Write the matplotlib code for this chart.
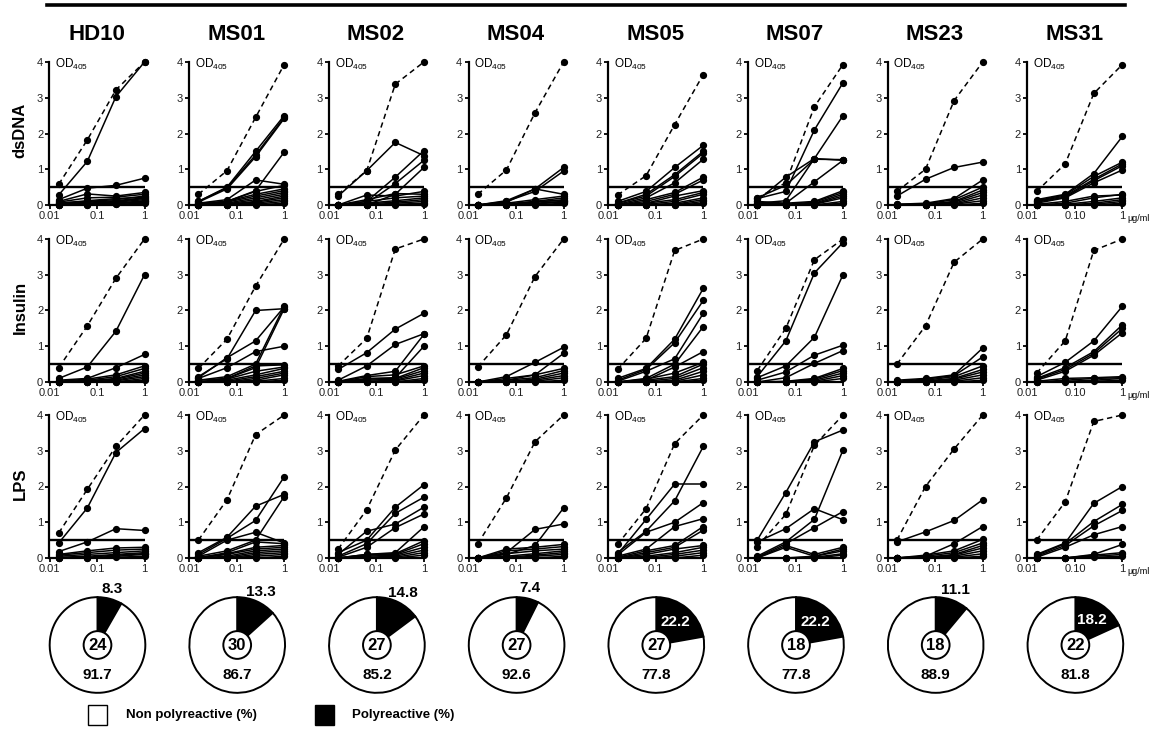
import math
import matplotlib
matplotlib.use("Agg")
import matplotlib.pyplot as plt
from matplotlib.lines import Line2D
from matplotlib.patches import Rectangle, Circle
from matplotlib.ticker import NullLocator

plt.rcParams['font.family'] = ['Liberation Sans', 'DejaVu Sans']

# ---- data ----
subjects = ["HD10", "MS01", "MS02", "MS04", "MS05", "MS07", "MS23", "MS31"]
antigens = ["dsDNA", "Insulin", "LPS"]
conc = [0.015625, 0.0625, 0.25, 1.0]   # ug/ml
n_clones = [24, 30, 27, 27, 27, 18, 18, 22]
poly_pct = [8.3, 13.3, 14.8, 7.4, 22.2, 22.2, 11.1, 18.2]
non_poly_pct = [91.7, 86.7, 85.2, 92.6, 77.8, 77.8, 88.9, 81.8]

# positive control (dashed) per subject
dsdna_ctrl = [[0.58, 1.82, 3.22, 4.0], [0.30, 0.96, 2.45, 3.93], [0.30, 0.96, 3.38, 4.0],
              [0.30, 0.98, 2.58, 4.0], [0.28, 0.82, 2.25, 3.65], [0.20, 0.62, 2.75, 3.93],
              [0.38, 1.00, 2.92, 4.0], [0.38, 1.15, 3.12, 3.93]]
insulin_ctrl = [[0.40, 1.57, 2.90, 4.0], [0.38, 1.20, 2.68, 4.0], [0.45, 1.22, 3.72, 4.0],
                [0.42, 1.32, 2.95, 4.0], [0.35, 1.22, 3.68, 4.0], [0.32, 1.50, 3.42, 4.0],
                [0.50, 1.57, 3.35, 4.0], [0.25, 1.15, 3.68, 4.0]]
lps_ctrl = [[0.70, 1.92, 3.12, 4.0], [0.50, 1.63, 3.45, 4.0], [0.25, 1.35, 3.02, 4.0],
            [0.40, 1.68, 3.25, 4.0], [0.38, 1.38, 3.20, 4.0], [0.32, 1.22, 3.15, 4.0],
            [0.50, 2.00, 3.05, 4.0], [0.50, 1.57, 3.82, 4.0]]

# clones per subject
dsdna_clones = [
    [[0.28, 1.22, 3.03, 4.0], [0.15, 0.47, 0.55, 0.75], [0.10, 0.31, 0.25, 0.35], [0.08, 0.20, 0.22, 0.30],
     [0.05, 0.10, 0.15, 0.25], [0.03, 0.08, 0.12, 0.20], [0.02, 0.05, 0.10, 0.18], [0.0, 0.04, 0.08, 0.15],
     [0.0, 0.02, 0.05, 0.12], [0.0, 0.0, 0.03, 0.10], [0.05, 0.12, 0.18, 0.22], [0.02, 0.03, 0.06, 0.08],
     [0.0, 0.01, 0.02, 0.05]],
    [[0.10, 0.50, 1.50, 2.50], [0.10, 0.48, 1.40, 2.45], [0.08, 0.45, 1.35, 2.42], [0.05, 0.10, 0.40, 1.48],
     [0.05, 0.15, 0.70, 0.58], [0.0, 0.10, 0.38, 0.55], [0.02, 0.10, 0.30, 0.45], [0.0, 0.08, 0.25, 0.40],
     [0.0, 0.05, 0.20, 0.35], [0.0, 0.03, 0.15, 0.30], [0.0, 0.02, 0.10, 0.25], [0.0, 0.0, 0.08, 0.20],
     [0.0, 0.0, 0.05, 0.15], [0.0, 0.0, 0.02, 0.10], [0.0, 0.0, 0.0, 0.05]],
    [[0.25, 0.96, 1.75, 1.38], [0.0, 0.10, 0.78, 1.52], [0.0, 0.05, 0.60, 1.25], [0.0, 0.0, 0.30, 1.05],
     [0.0, 0.28, 0.25, 0.38], [0.0, 0.15, 0.32, 0.30], [0.0, 0.10, 0.20, 0.25], [0.0, 0.05, 0.12, 0.20],
     [0.0, 0.03, 0.08, 0.15], [0.0, 0.0, 0.05, 0.10], [0.0, 0.0, 0.02, 0.05], [0.0, 0.0, 0.0, 0.02]],
    [[0.0, 0.12, 0.45, 1.05], [0.0, 0.10, 0.38, 0.95], [0.0, 0.08, 0.45, 0.30], [0.0, 0.05, 0.15, 0.25],
     [0.0, 0.03, 0.10, 0.20], [0.0, 0.02, 0.08, 0.15], [0.0, 0.0, 0.05, 0.10], [0.0, 0.0, 0.03, 0.08],
     [0.0, 0.0, 0.0, 0.05], [0.0, 0.0, 0.10, 0.12]],
    [[0.10, 0.38, 1.05, 1.67], [0.05, 0.30, 0.85, 1.50], [0.05, 0.25, 0.80, 1.45], [0.02, 0.20, 0.62, 1.28],
     [0.0, 0.15, 0.35, 0.78], [0.0, 0.10, 0.30, 0.70], [0.0, 0.05, 0.25, 0.40], [0.0, 0.05, 0.15, 0.35],
     [0.0, 0.02, 0.10, 0.30], [0.0, 0.0, 0.05, 0.20], [0.0, 0.0, 0.02, 0.15], [0.0, 0.0, 0.0, 0.10],
     [0.0, 0.0, 0.0, 0.05]],
    [[0.18, 0.38, 2.10, 3.42], [0.05, 0.12, 1.30, 2.50], [0.12, 0.78, 1.30, 1.25], [0.0, 0.05, 0.65, 1.25],
     [0.20, 0.55, 1.28, 1.27], [0.10, 0.05, 0.10, 0.40], [0.05, 0.02, 0.08, 0.35], [0.0, 0.0, 0.05, 0.30],
     [0.0, 0.0, 0.03, 0.25], [0.0, 0.0, 0.02, 0.20], [0.0, 0.0, 0.0, 0.10], [0.0, 0.0, 0.0, 0.05]],
    [[0.25, 0.72, 1.05, 1.20], [0.02, 0.05, 0.18, 0.70], [0.02, 0.03, 0.15, 0.50], [0.0, 0.02, 0.10, 0.42],
     [0.0, 0.0, 0.08, 0.35], [0.0, 0.0, 0.05, 0.28], [0.0, 0.0, 0.03, 0.20], [0.0, 0.0, 0.02, 0.12],
     [0.0, 0.0, 0.0, 0.05]],
    [[0.15, 0.30, 0.88, 1.92], [0.12, 0.28, 0.80, 1.20], [0.10, 0.25, 0.72, 1.15], [0.08, 0.22, 0.68, 1.10],
     [0.05, 0.20, 0.62, 0.98], [0.02, 0.10, 0.25, 0.28], [0.0, 0.05, 0.20, 0.30], [0.0, 0.02, 0.10, 0.20],
     [0.0, 0.0, 0.05, 0.15], [0.0, 0.0, 0.02, 0.10], [0.0, 0.0, 0.0, 0.05]],
]
insulin_clones = [
    [[0.10, 0.42, 1.42, 3.00], [0.05, 0.10, 0.40, 0.77], [0.02, 0.08, 0.20, 0.45], [0.0, 0.05, 0.15, 0.38],
     [0.0, 0.03, 0.10, 0.30], [0.0, 0.02, 0.08, 0.25], [0.0, 0.0, 0.05, 0.20], [0.0, 0.0, 0.03, 0.15],
     [0.0, 0.0, 0.0, 0.10], [0.0, 0.0, 0.0, 0.05]],
    [[0.15, 0.65, 2.00, 2.05], [0.12, 0.68, 1.15, 2.10], [0.10, 0.40, 0.85, 1.00], [0.05, 0.15, 0.50, 2.12],
     [0.0, 0.10, 0.40, 2.05], [0.05, 0.10, 0.45, 0.48], [0.0, 0.08, 0.30, 0.42], [0.0, 0.05, 0.20, 0.38],
     [0.0, 0.02, 0.15, 0.30], [0.0, 0.0, 0.10, 0.25], [0.0, 0.0, 0.05, 0.20], [0.0, 0.0, 0.02, 0.10],
     [0.0, 0.0, 0.0, 0.05]],
    [[0.35, 0.82, 1.48, 1.92], [0.05, 0.45, 1.05, 1.35], [0.02, 0.18, 0.30, 1.33], [0.0, 0.10, 0.12, 1.00],
     [0.0, 0.15, 0.20, 0.45], [0.0, 0.08, 0.10, 0.40], [0.0, 0.05, 0.08, 0.32], [0.0, 0.02, 0.05, 0.25],
     [0.0, 0.0, 0.03, 0.18], [0.0, 0.0, 0.0, 0.10], [0.0, 0.0, 0.0, 0.05]],
    [[0.0, 0.15, 0.55, 0.97], [0.0, 0.05, 0.20, 0.80], [0.0, 0.10, 0.20, 0.38], [0.0, 0.05, 0.12, 0.32],
     [0.0, 0.02, 0.08, 0.25], [0.0, 0.0, 0.05, 0.18], [0.0, 0.0, 0.02, 0.12], [0.0, 0.0, 0.0, 0.05]],
    [[0.10, 0.38, 1.20, 2.62], [0.05, 0.35, 1.10, 2.28], [0.02, 0.30, 0.65, 1.92], [0.0, 0.10, 0.50, 1.55],
     [0.0, 0.05, 0.42, 0.85], [0.0, 0.08, 0.25, 0.55], [0.0, 0.05, 0.15, 0.50], [0.0, 0.02, 0.10, 0.40],
     [0.0, 0.0, 0.05, 0.30], [0.0, 0.0, 0.02, 0.20], [0.0, 0.0, 0.0, 0.10], [0.0, 0.0, 0.0, 0.05]],
    [[0.15, 1.15, 3.05, 3.90], [0.12, 0.45, 1.25, 3.00], [0.05, 0.28, 0.75, 1.03], [0.0, 0.12, 0.52, 0.88],
     [0.0, 0.02, 0.10, 0.38], [0.0, 0.0, 0.08, 0.32], [0.0, 0.0, 0.05, 0.25], [0.0, 0.0, 0.02, 0.18],
     [0.0, 0.0, 0.0, 0.10]],
    [[0.05, 0.10, 0.20, 0.95], [0.02, 0.08, 0.18, 0.70], [0.0, 0.05, 0.15, 0.45], [0.0, 0.03, 0.10, 0.35],
     [0.0, 0.02, 0.08, 0.28], [0.0, 0.0, 0.05, 0.20], [0.0, 0.0, 0.02, 0.12], [0.0, 0.0, 0.0, 0.05]],
    [[0.15, 0.55, 1.15, 2.12], [0.10, 0.40, 0.85, 1.60], [0.08, 0.35, 0.80, 1.50], [0.05, 0.30, 0.75, 1.38],
     [0.02, 0.10, 0.12, 0.15], [0.0, 0.05, 0.10, 0.12], [0.0, 0.02, 0.05, 0.10], [0.0, 0.0, 0.02, 0.05]],
]
lps_clones = [
    [[0.42, 1.40, 2.95, 3.62], [0.18, 0.45, 0.82, 0.77], [0.10, 0.20, 0.28, 0.30], [0.08, 0.15, 0.22, 0.25],
     [0.05, 0.10, 0.15, 0.20], [0.02, 0.05, 0.10, 0.15], [0.0, 0.02, 0.08, 0.12], [0.0, 0.0, 0.05, 0.10],
     [0.0, 0.0, 0.02, 0.05]],
    [[0.15, 0.58, 1.45, 1.78], [0.10, 0.55, 1.05, 2.27], [0.05, 0.50, 0.72, 0.42], [0.05, 0.20, 0.50, 1.72],
     [0.0, 0.15, 0.45, 0.40], [0.02, 0.12, 0.30, 0.35], [0.0, 0.10, 0.25, 0.30], [0.0, 0.05, 0.20, 0.25],
     [0.0, 0.02, 0.15, 0.20], [0.0, 0.0, 0.10, 0.15], [0.0, 0.0, 0.05, 0.10], [0.0, 0.0, 0.0, 0.05]],
    [[0.15, 0.50, 1.42, 2.05], [0.10, 0.75, 0.95, 1.42], [0.05, 0.40, 1.25, 1.70], [0.02, 0.30, 0.85, 1.23],
     [0.0, 0.10, 0.15, 0.87], [0.0, 0.10, 0.12, 0.48], [0.0, 0.08, 0.10, 0.40], [0.0, 0.05, 0.08, 0.30],
     [0.0, 0.02, 0.05, 0.22], [0.0, 0.0, 0.02, 0.15], [0.0, 0.0, 0.0, 0.08]],
    [[0.0, 0.15, 0.80, 0.95], [0.0, 0.10, 0.35, 1.40], [0.0, 0.25, 0.30, 0.38], [0.0, 0.20, 0.25, 0.32],
     [0.0, 0.12, 0.20, 0.25], [0.0, 0.05, 0.12, 0.20], [0.0, 0.02, 0.08, 0.15], [0.0, 0.0, 0.05, 0.10],
     [0.0, 0.0, 0.0, 0.05]],
    [[0.15, 0.75, 1.60, 3.12], [0.10, 1.08, 2.07, 2.07], [0.08, 0.72, 1.00, 1.55], [0.05, 0.25, 0.88, 1.10],
     [0.02, 0.20, 0.35, 0.88], [0.0, 0.15, 0.30, 0.78], [0.0, 0.10, 0.25, 0.35], [0.0, 0.05, 0.15, 0.30],
     [0.0, 0.02, 0.10, 0.22], [0.0, 0.0, 0.05, 0.15], [0.0, 0.0, 0.0, 0.08]],
    [[0.50, 1.83, 3.25, 3.58], [0.45, 0.82, 1.38, 1.07], [0.05, 0.45, 1.08, 3.02], [0.02, 0.40, 0.85, 1.30],
     [0.0, 0.35, 0.10, 0.30], [0.0, 0.30, 0.05, 0.25], [0.0, 0.0, 0.05, 0.20], [0.0, 0.0, 0.02, 0.12],
     [0.0, 0.0, 0.0, 0.08]],
    [[0.45, 0.73, 1.05, 1.63], [0.0, 0.05, 0.40, 0.88], [0.0, 0.08, 0.20, 0.52], [0.0, 0.05, 0.15, 0.42],
     [0.0, 0.02, 0.10, 0.35], [0.0, 0.0, 0.08, 0.28], [0.0, 0.0, 0.05, 0.20], [0.0, 0.0, 0.02, 0.12],
     [0.0, 0.0, 0.0, 0.05]],
    [[0.10, 0.42, 1.53, 2.00], [0.08, 0.40, 1.02, 1.50], [0.05, 0.35, 0.90, 1.33], [0.02, 0.30, 0.65, 0.88],
     [0.0, 0.0, 0.10, 0.38], [0.0, 0.0, 0.08, 0.15], [0.0, 0.0, 0.05, 0.10], [0.0, 0.0, 0.02, 0.05]],
]

ctrl_by_antigen = [dsdna_ctrl, insulin_ctrl, lps_ctrl]
clones_by_antigen = [dsdna_clones, insulin_clones, lps_clones]
cutoff = 0.5

# ---- layout (pixels) ----
W, H = 1156, 730
fig = plt.figure(figsize=(W / 100, H / 100), dpi=100)

def fx(px):
    return px / W

def fy(py):
    return 1 - py / H

col_x = [49.5 + 139.7 * i for i in range(8)]
ax_w = 95
row_top = [62, 239, 415]
ax_h = 143

# top bar
fig.add_artist(Line2D([fx(47), fx(1125)], [fy(5), fy(5)], color='black', lw=2.6))

for c, subj in enumerate(subjects):
    fig.text(fx(col_x[c] + 47), fy(34), subj, ha='center', va='center',
             fontsize=16, fontweight='bold')
    for r in range(3):
        ax = fig.add_axes([fx(col_x[c]), fy(row_top[r] + ax_h), fx(ax_w), ax_h / H])
        ax.set_xscale('log')
        ax.set_xlim(0.01, 1)
        ax.set_ylim(0, 4)
        for line in clones_by_antigen[r][c]:
            ax.plot(conc, line, color='black', lw=1.1, marker='o', ms=4.2, clip_on=False, zorder=3)
        ax.plot(conc, ctrl_by_antigen[r][c], color='black', lw=1.1, ls=(0, (3.5, 2.5)),
                marker='o', ms=4.2, clip_on=False, zorder=4)
        ax.axhline(cutoff, color='black', lw=1.7, zorder=2)
        for s in ['top', 'right']:
            ax.spines[s].set_visible(False)
        for s in ['left', 'bottom']:
            ax.spines[s].set_linewidth(1.6)
        ax.set_xticks([0.01, 0.1, 1])
        if c == 7:
            ax.set_xticklabels(['0.01', '0.10', '1'])
            ax.annotate('\u03bcg/ml', xy=(1, 0), xycoords='axes fraction', xytext=(3.5, -9.5),
                        textcoords='offset points', fontsize=6.5, va='center', ha='left',
                        annotation_clip=False)
        else:
            ax.set_xticklabels(['0.01', '0.1', '1'])
        ax.xaxis.set_minor_locator(NullLocator())
        ax.set_yticks([0, 1, 2, 3, 4])
        ax.set_yticklabels(['0', '1', '2', '3', '4'])
        ax.tick_params(axis='both', labelsize=8, width=1.3, length=3, pad=1.5, colors='black',
                       labelcolor='#222222')
        ax.text(0.06, 0.985, r'OD$_{\mathregular{405}}$', transform=ax.transAxes,
                ha='left', va='center', fontsize=8.5)
        if c == 0:
            fig.text(fx(20), fy(row_top[r] + ax_h / 2 - 3), antigens[r], rotation=90,
                     ha='center', va='center', fontsize=12, fontweight='bold')

# ---- pies ----
pie_cy = 645
for c in range(8):
    cx = col_x[c] + 48
    size = 110
    pax = fig.add_axes([fx(cx - size / 2), fy(pie_cy + size / 2), fx(size), size / H])
    pax.axis('off')
    pax.pie([poly_pct[c], non_poly_pct[c]], colors=['black', 'white'], startangle=90,
            counterclock=False, radius=1.0,
            wedgeprops=dict(edgecolor='black', linewidth=1.4))
    pax.set_xlim(-1.15, 1.15)
    pax.set_ylim(-1.15, 1.15)
    pax.set_aspect('equal')
    pax.add_patch(Circle((0, 0), 0.29, facecolor='white', edgecolor='black', lw=1.4, zorder=5))
    pax.text(0, -0.02, str(n_clones[c]), ha='center', va='center', fontsize=12,
             fontweight='bold', zorder=6)
    pax.text(0, -0.63, f'{non_poly_pct[c]:.1f}', ha='center', va='center', fontsize=11,
             fontweight='bold')
    mid = poly_pct[c] / 100 * math.pi
    if poly_pct[c] > 15:
        rr = 0.62
        pax.text(rr * math.sin(mid), rr * math.cos(mid), f'{poly_pct[c]:.1f}', ha='center',
                 va='center', fontsize=11, fontweight='bold', color='white')
    else:
        rr = 1.22
        pax.text(rr * math.sin(mid), rr * math.cos(mid), f'{poly_pct[c]:.1f}', ha='center',
                 va='center', fontsize=11, fontweight='bold', color='black', clip_on=False)

# ---- legend ----
fig.add_artist(Rectangle((fx(88), fy(725)), fx(19), 20 / H, facecolor='white',
                         edgecolor='black', lw=1.0))
fig.text(fx(126), fy(715), 'Non polyreactive (%)', ha='left', va='center', fontsize=9.5,
         fontweight='bold')
fig.add_artist(Rectangle((fx(315), fy(725)), fx(19), 20 / H, facecolor='black',
                         edgecolor='black', lw=1.0))
fig.text(fx(352), fy(715), 'Polyreactive (%)', ha='left', va='center', fontsize=9.5,
         fontweight='bold')

fig.savefig('out.png', dpi=100)
